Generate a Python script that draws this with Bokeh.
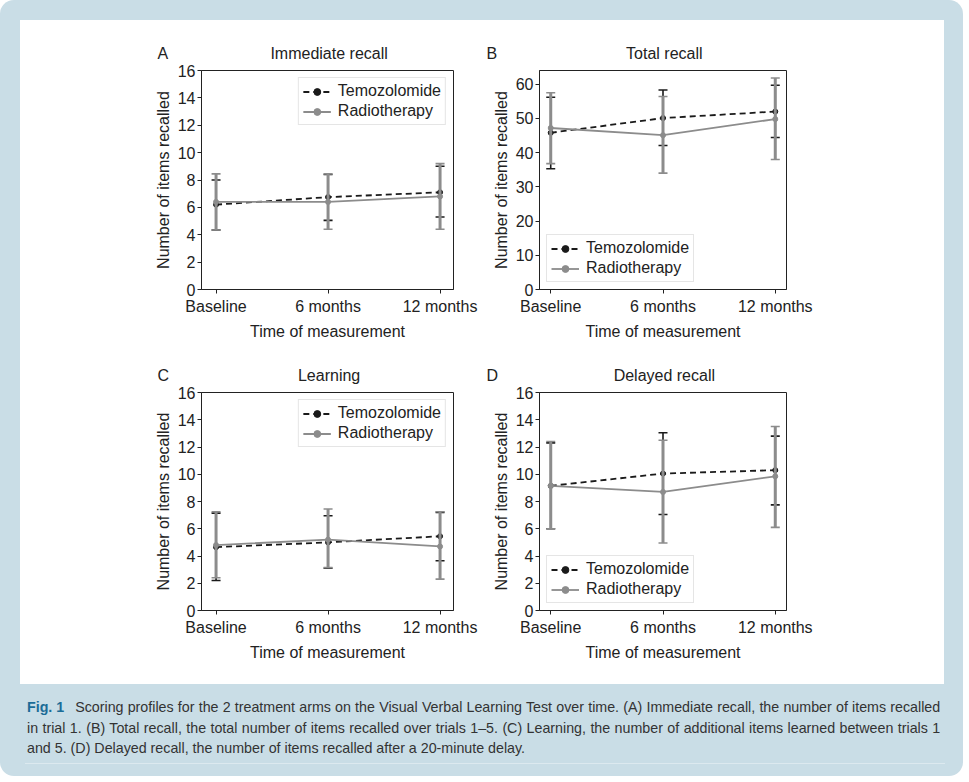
import numpy as np
from bokeh.plotting import figure
from bokeh.models import (ColumnDataSource, Whisker, TeeHead, Range1d, FixedTicker,
                          Legend, LegendItem, Spacer, Div, Row, Column)
from bokeh.embed import file_html
from bokeh.resources import INLINE

# ---------------- data ----------------
categories = ["Baseline", "6 months", "12 months"]
series_names = ["Temozolomide", "Radiotherapy"]
panel_letters = ["A", "B", "C", "D"]
panel_titles = ["Immediate recall", "Total recall", "Learning", "Delayed recall"]

# (A) Immediate recall
imm_tmz_mean = [6.2, 6.75, 7.1]
imm_tmz_lo = [4.35, 5.05, 5.3]
imm_tmz_hi = [8.0, 8.4, 9.0]
imm_rt_mean = [6.4, 6.4, 6.8]
imm_rt_lo = [4.35, 4.4, 4.4]
imm_rt_hi = [8.45, 8.45, 9.2]

# (B) Total recall
tot_tmz_mean = [45.8, 50.1, 52.0]
tot_tmz_lo = [35.3, 42.1, 44.4]
tot_tmz_hi = [56.2, 58.3, 59.7]
tot_rt_mean = [47.2, 45.1, 49.8]
tot_rt_lo = [36.8, 34.0, 38.0]
tot_rt_hi = [57.5, 56.4, 61.8]

# (C) Learning
lrn_tmz_mean = [4.65, 5.0, 5.45]
lrn_tmz_lo = [2.2, 3.1, 3.65]
lrn_tmz_hi = [7.15, 6.95, 7.2]
lrn_rt_mean = [4.8, 5.2, 4.7]
lrn_rt_lo = [2.4, 3.15, 2.3]
lrn_rt_hi = [7.25, 7.45, 7.25]

# (D) Delayed recall
del_tmz_mean = [9.15, 10.05, 10.3]
del_tmz_lo = [6.0, 7.05, 7.75]
del_tmz_hi = [12.3, 13.05, 12.8]
del_rt_mean = [9.15, 8.7, 9.85]
del_rt_lo = [6.0, 4.95, 6.1]
del_rt_hi = [12.4, 12.5, 13.5]

y_ticks_16 = [0, 2, 4, 6, 8, 10, 12, 14, 16]
y_ticks_60 = [0, 10, 20, 30, 40, 50, 60]

FONT = "Liberation Sans"
TXT = "#222222"
BLACK = "#1a1a1a"
GREY = "#8c8c8c"
FS = "16px"


def make_panel(letter, title, gap, tmz, rt, width, height, ml, mr, mt, mb,
               xlo, xhi, ymax, yticks, legend_loc, letter_offset):
    p = figure(width=width, height=height, output_backend="svg", toolbar_location=None,
               x_range=Range1d(xlo, xhi), y_range=Range1d(0, ymax),
               min_border_left=ml, min_border_right=mr, min_border_top=mt,
               min_border_bottom=mb)
    p.background_fill_color = "white"
    p.border_fill_color = "white"
    p.outline_line_color = TXT
    p.outline_line_width = 1
    p.xgrid.visible = False
    p.ygrid.visible = False

    # panel letter and panel title share one title line
    p.title.text = letter + "\u00a0" * gap + title
    p.title.align = "left"
    p.title.offset = letter_offset
    p.title.text_font = FONT
    p.title.text_font_size = FS
    p.title.text_font_style = "normal"
    p.title.text_color = TXT
    p.title.standoff = 18

    p.xaxis.ticker = FixedTicker(ticks=list(range(len(categories))))
    p.xaxis.major_label_overrides = {i: c for i, c in enumerate(categories)}
    p.yaxis.ticker = FixedTicker(ticks=yticks)
    p.xaxis.axis_label = "Time of measurement"
    p.yaxis.axis_label = "Number of items recalled"
    for ax in (p.xaxis, p.yaxis):
        ax.axis_label_text_font = FONT
        ax.axis_label_text_font_size = FS
        ax.axis_label_text_font_style = "normal"
        ax.axis_label_text_color = TXT
        ax.major_label_text_font = FONT
        ax.major_label_text_font_size = FS
        ax.major_label_text_color = TXT
        ax.major_tick_out = 4
        ax.major_tick_in = 0
        ax.minor_tick_out = 0
        ax.minor_tick_in = 0
        ax.axis_line_color = TXT
        ax.major_tick_line_color = TXT
    p.xaxis.major_label_standoff = 4
    p.xaxis.axis_label_standoff = 5
    p.yaxis.major_label_standoff = 2
    p.yaxis.axis_label_standoff = 3

    xs = list(range(len(categories)))
    renderers = []
    for (mean, lo, hi), color, dash, wlw in ((tmz, BLACK, "6 4", 1.6), (rt, GREY, "solid", 3.0)):
        src = ColumnDataSource(dict(x=xs, m=mean, lo=lo, hi=hi))
        ln = p.line("x", "m", source=src, line_color=color, line_width=1.8, line_dash=dash)
        wh = Whisker(base="x", upper="hi", lower="lo", source=src, line_color=color,
                     line_width=wlw, level="glyph",
                     upper_head=TeeHead(size=9, line_color=color, line_width=1.6),
                     lower_head=TeeHead(size=9, line_color=color, line_width=1.6))
        p.add_layout(wh)
        mk = p.scatter("x", "m", source=src, size=5, fill_color=color, line_color=color)
        bar = p.scatter(x=[], y=[], marker="cross", size=13,
                        line_color=color, line_width=wlw)
        renderers.append([ln, bar, mk])

    legend = Legend(items=[LegendItem(label=series_names[0], renderers=renderers[0]),
                           LegendItem(label=series_names[1], renderers=renderers[1])],
                    location=legend_loc)
    legend.label_text_font = FONT
    legend.label_text_font_size = FS
    legend.label_text_color = TXT
    legend.glyph_width = 28
    legend.glyph_height = 17
    legend.label_height = 17
    legend.label_standoff = 7
    legend.padding = 4
    legend.spacing = 2
    legend.margin = 7
    legend.border_line_color = "#cccccc"
    legend.border_line_width = 1
    legend.background_fill_alpha = 0.85
    p.add_layout(legend)
    return p


pA = make_panel(panel_letters[0], panel_titles[0], 23,
                (imm_tmz_mean, imm_tmz_lo, imm_tmz_hi), (imm_rt_mean, imm_rt_lo, imm_rt_hi),
                458, 332, 181, 25, 50, 63, -0.13, 2.12, 16, y_ticks_16, "top_right", -44)
pB = make_panel(panel_letters[1], panel_titles[1], 29,
                (tot_tmz_mean, tot_tmz_lo, tot_tmz_hi), (tot_rt_mean, tot_rt_lo, tot_rt_hi),
                466, 332, 61, 158, 50, 63, -0.1, 2.1, 64, y_ticks_60, "bottom_left", -53)
pC = make_panel(panel_letters[2], panel_titles[2], 29,
                (lrn_tmz_mean, lrn_tmz_lo, lrn_tmz_hi), (lrn_rt_mean, lrn_rt_lo, lrn_rt_hi),
                458, 332, 181, 25, 40, 74, -0.13, 2.12, 16, y_ticks_16, "top_right", -44)
pD = make_panel(panel_letters[3], panel_titles[3], 26,
                (del_tmz_mean, del_tmz_lo, del_tmz_hi), (del_rt_mean, del_rt_lo, del_rt_hi),
                466, 332, 61, 158, 40, 74, -0.1, 2.1, 16, y_ticks_16, "bottom_left", -53)

grid = Column(children=[Row(children=[pA, pB]), Row(children=[pC, pD])],
              styles={"background-color": "white"})
inner = Row(children=[Spacer(width=20, height=664), grid, Spacer(width=9, height=664)])

CAP_FONT = "font-family:'Liberation Sans',Arial,sans-serif;font-size:14.5px;color:#333333;"
SCALE = 0.983
LINE_W = int(round(913 / SCALE))


def cap_line(top, html, justify):
    align = "text-align:justify;text-align-last:justify;" if justify else ""
    width = "width:%dpx;" % LINE_W if justify else ""
    return ('<div style="position:absolute;left:22px;top:%dpx;%s%sline-height:20px;'
            'white-space:nowrap;transform:scaleX(%.3f);transform-origin:0 0;">%s</div>'
            % (top, width, align, SCALE, html))


caption_html = (
    '<div style="position:relative;width:948px;height:77px;%s">' % CAP_FONT
    + cap_line(8, '<span style="display:inline-block;width:49px;text-align:left;'
               'text-align-last:left;color:#1b6c97;font-weight:bold;">Fig.&nbsp;1</span>'
               'Scoring profiles for the 2 treatment arms on the Visual Verbal Learning Test over time. '
               '(A) Immediate recall, the number of items recalled', True)
    + cap_line(29, 'in trial 1. (B) Total recall, the total number of items recalled over trials 1&ndash;5. '
               '(C) Learning, the number of additional items learned between trials 1', True)
    + cap_line(49, 'and 5. (D) Delayed recall, the number of items recalled after a 20-minute delay.', False)
    + '<div style="position:absolute;left:20px;width:920px;top:74px;border-top:1px solid #dce9ef;"></div>'
    + '</div>'
)
caption = Div(text=caption_html, width=953, height=82)

page = Column(children=[Spacer(width=953, height=20), inner, caption],
              styles={"background-color": "#c9dde6", "border-radius": "14px"})

open("out.html", "w").write(file_html(page, INLINE))
